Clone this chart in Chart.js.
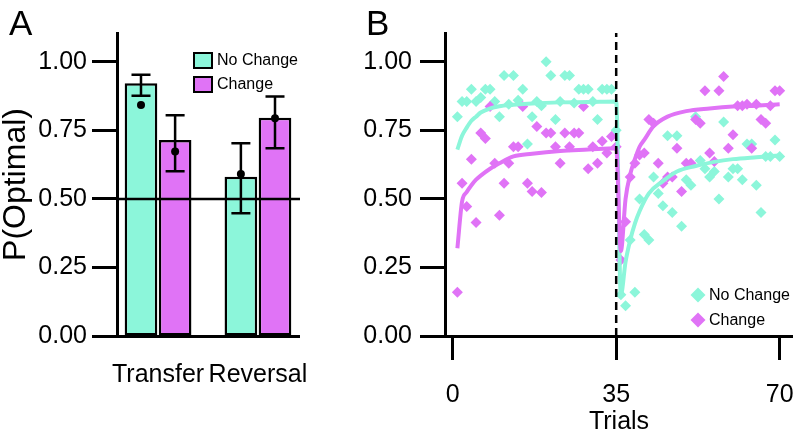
<!DOCTYPE html>
<html>
<head>
<meta charset="utf-8">
<script src="https://cdn.jsdelivr.net/npm/chart.js@4.4.1/dist/chart.umd.min.js"></script>
<style>
  html, body { margin: 0; padding: 0; background: #fff; overflow: hidden; }
  #wrap { position: relative; width: 793px; height: 432px; overflow: hidden; }
  canvas { position: absolute; top: 0; }
  #chartA { left: 0; }
  #chartB { left: 330px; }
  .tag { position: absolute; top: 5px; font: 35px 'Liberation Sans', Arial, sans-serif; line-height: 35px; color: #000; }
</style>
</head>
<body>
<div id="wrap">
  <canvas id="chartA" width="340" height="432"></canvas>
  <canvas id="chartB" width="500" height="432"></canvas>
  <div class="tag" style="left:9px">A</div>
  <div class="tag" style="left:366px">B</div>
</div>
<script>
// ---- data ----
const seriesNames = ['No Change', 'Change'];
const groups = ['Transfer', 'Reversal'];
const groupPos = [1, 2];
const noChangeMean = [0.922, 0.581];
const noChangeLow = [0.876, 0.448];
const noChangeHigh = [0.953, 0.703];
const noChangeDot = [0.842, 0.591];
const changeMean = [0.715, 0.796];
const changeLow = [0.601, 0.685];
const changeHigh = [0.805, 0.873];
const changeDot = [0.673, 0.794];
const chanceLevel = 0.5;

const yTicks = [0, 0.25, 0.5, 0.75, 1];
const yMax = 1.105;
const xRangeA = [0.589, 2.421];
const xTicks = [0, 35, 70];
const xRangeB = [-1.65, 72.85];
const switchTrial = 35;

// per-trial proportions, trials 1..70
const noChangeTrials = [
  0.80, 0.855, 0.855, 0.90, 0.855, 0.87, 0.90, 0.90, 0.855, 0.80,
  0.95, 0.845, 0.95, 0.86, 0.90, 0.70, 0.80, 0.855, 0.84, 1.00,
  0.95, 0.79, 0.855, 0.95, 0.95, 0.85, 0.90, 0.90, 0.90, 0.855,
  0.79, 0.90, 0.90, 0.90, 0.75,
  0.15, 0.11, 0.35, 0.16, 0.50, 0.37, 0.35, 0.58, 0.52, 0.475,
  0.73, 0.45, 0.73, 0.40, 0.57, 0.55, 0.80, 0.64, 0.61, 0.58,
  0.60, 0.50, 0.78, 0.58, 0.61, 0.61, 0.57, 0.70, 0.70, 0.55,
  0.45, 0.655, 0.655, 0.715, 0.655
];
const changeTrials = [
  0.16, 0.557, 0.472, 0.645, 0.414, 0.74, 0.72, 0.837, 0.63, 0.44,
  0.557, 0.63, 0.69, 0.69, 0.837, 0.557, 0.527, 0.764, 0.523, 0.74,
  0.74, 0.69, 0.63, 0.74, 0.69, 0.74, 0.74, 0.837, 0.61, 0.69,
  0.63, 0.71, 0.667, 0.728, 0.69,
  0.277, 0.417, 0.58, 0.63, 0.66, 0.667, 0.79, 0.776, 0.63, 0.557,
  0.58, 0.58, 0.685, 0.527, 0.63, 0.63, 0.79, 0.776, 0.894, 0.667,
  0.636, 0.894, 0.946, 0.685, 0.734, 0.84, 0.84, 0.845, 0.685, 0.845,
  0.79, 0.776, 0.84, 0.894, 0.894
];

// model fits
const noChangeFitTrials = [1, 2, 3, 4, 5, 6, 8, 10, 13, 17, 23, 29, 35, 36, 37, 38, 39, 40, 42, 45, 48, 52, 56, 60, 65, 70];
const noChangeFit = [0.68, 0.73, 0.76, 0.785, 0.80, 0.815, 0.83, 0.838, 0.843, 0.848, 0.852, 0.853, 0.855,
  0.15, 0.27, 0.35, 0.41, 0.455, 0.52, 0.565, 0.60, 0.62, 0.635, 0.645, 0.652, 0.658];
const changeFitTrials = [1, 2, 3, 4, 5, 6, 8, 10, 13, 17, 23, 29, 35, 36, 37, 38, 39, 40, 41, 43, 46, 50, 55, 60, 65, 70];
const changeFit = [0.32, 0.49, 0.525, 0.55, 0.57, 0.585, 0.61, 0.63, 0.655, 0.665, 0.675, 0.68, 0.685,
  0.31, 0.50, 0.59, 0.645, 0.69, 0.715, 0.765, 0.80, 0.82, 0.83, 0.837, 0.84, 0.845];

const cyan = '#8cf6da';
const purple = '#e073f6';

Chart.defaults.font.family = "'Liberation Sans', Arial, sans-serif";
Chart.defaults.color = '#000';

const toPoints = (xs, ys) => xs.map((x, i) => ({ x: x, y: ys[i] }));
const trialPoints = ys => ys.map((y, i) => ({ x: i + 1, y: y }));

// error bars + mean dots on top of the bars
const errorBars = {
  id: 'errorBars',
  afterDatasetsDraw(chart) {
    const { ctx } = chart;
    const y = chart.scales.y;
    const sets = [[noChangeLow, noChangeHigh, noChangeDot], [changeLow, changeHigh, changeDot]];
    ctx.save();
    ctx.strokeStyle = '#000';
    ctx.fillStyle = '#000';
    ctx.lineWidth = 2.5;
    sets.forEach(([lo, hi, dot], d) => {
      chart.getDatasetMeta(d).data.forEach((bar, i) => {
        const top = y.getPixelForValue(hi[i]);
        const bot = y.getPixelForValue(lo[i]);
        ctx.beginPath();
        ctx.moveTo(bar.x, top); ctx.lineTo(bar.x, bot);
        ctx.moveTo(bar.x - 9.5, top); ctx.lineTo(bar.x + 9.5, top);
        ctx.moveTo(bar.x - 9.5, bot); ctx.lineTo(bar.x + 9.5, bot);
        ctx.stroke();
        ctx.beginPath();
        ctx.arc(bar.x, y.getPixelForValue(dot[i]), 4, 0, Math.PI * 2);
        ctx.fill();
      });
    });
    ctx.restore();
  }
};

const legendA = {
  id: 'legendA',
  afterDraw(chart) {
    const { ctx, chartArea } = chart;
    const left = chartArea.left + 77;
    ctx.save();
    ctx.font = "16px 'Liberation Sans', Arial, sans-serif";
    ctx.textBaseline = 'middle';
    [cyan, purple].forEach((color, i) => {
      const top = chartArea.top + 20 + i * 24;
      ctx.fillStyle = color;
      ctx.fillRect(left, top, 18, 15);
      ctx.strokeStyle = '#000';
      ctx.lineWidth = 2;
      ctx.strokeRect(left, top, 18, 15);
      ctx.fillStyle = '#000';
      ctx.fillText(seriesNames[i], left + 23, top + 8);
    });
    ctx.restore();
  }
};

const legendB = {
  id: 'legendB',
  afterDraw(chart) {
    const { ctx, chartArea } = chart;
    const cx = chartArea.left + 253;
    ctx.save();
    ctx.font = "16px 'Liberation Sans', Arial, sans-serif";
    ctx.textBaseline = 'middle';
    [cyan, purple].forEach((color, i) => {
      const cy = chartArea.bottom - 41 + i * 25;
      const r = 7.5;
      ctx.fillStyle = color;
      ctx.beginPath();
      ctx.moveTo(cx - r, cy); ctx.lineTo(cx, cy - r); ctx.lineTo(cx + r, cy); ctx.lineTo(cx, cy + r);
      ctx.closePath();
      ctx.fill();
      ctx.fillStyle = '#000';
      ctx.fillText(seriesNames[i], cx + 11, cy + 1);
    });
    ctx.restore();
  }
};

const tickFont = { size: 25 };

// Panel A - bars
new Chart(document.getElementById('chartA'), {
  type: 'bar',
  data: {
    datasets: [
      { label: seriesNames[0], data: toPoints(groupPos, noChangeMean), backgroundColor: cyan,
        borderColor: '#000', borderWidth: 2.5, borderSkipped: false, order: 1 },
      { label: seriesNames[1], data: toPoints(groupPos, changeMean), backgroundColor: purple,
        borderColor: '#000', borderWidth: 2.5, borderSkipped: false, order: 1 },
      { type: 'line', label: 'chance', data: toPoints(xRangeA, [chanceLevel, chanceLevel]),
        borderColor: '#000', borderWidth: 2.5, pointRadius: 0, order: 0 }
    ]
  },
  options: {
    responsive: false,
    animation: false,
    events: [],
    layout: { padding: { top: 33, right: 38, bottom: 0, left: 0 } },
    datasets: { bar: { categoryPercentage: 0.683, barPercentage: 0.957 } },
    plugins: { legend: { display: false }, tooltip: { enabled: false } },
    scales: {
      x: {
        type: 'linear', min: xRangeA[0], max: xRangeA[1], offset: false,
        afterBuildTicks: s => { s.ticks = groupPos.map(v => ({ value: v })); },
        afterFit: s => { s.height = 96; },
        ticks: { callback: (v, i) => groups[i], padding: 24, font: tickFont, color: '#000',
          maxRotation: 0, minRotation: 0, autoSkip: false },
        grid: { display: false, drawTicks: false, offset: false },
        border: { color: '#000', width: 3 }
      },
      y: {
        min: 0, max: yMax,
        afterBuildTicks: s => { s.ticks = yTicks.map(v => ({ value: v })); },
        afterFit: s => { s.width = 117; },
        ticks: { callback: v => v.toFixed(2), padding: 5, font: tickFont, color: '#000' },
        grid: { drawOnChartArea: false, drawTicks: true, tickLength: 25, tickWidth: 3, tickColor: '#000' },
        border: { color: '#000', width: 3 },
        title: { display: true, text: 'P(Optimal)', font: { size: 32, lineHeight: 1 }, padding: 0, color: '#000' }
      }
    }
  },
  plugins: [errorBars, legendA]
});

// Panel B - trial-by-trial
new Chart(document.getElementById('chartB'), {
  type: 'scatter',
  data: {
    datasets: [
      { label: 'switch', data: toPoints([switchTrial, switchTrial], [0, yMax]), showLine: true,
        borderColor: '#000', borderWidth: 2.5, borderDash: [8, 5], pointRadius: 0 },
      { label: seriesNames[1] + ' fit', data: toPoints(changeFitTrials, changeFit), showLine: true,
        borderColor: purple, borderWidth: 4, pointRadius: 0, cubicInterpolationMode: 'monotone' },
      { label: seriesNames[0] + ' fit', data: toPoints(noChangeFitTrials, noChangeFit), showLine: true,
        borderColor: cyan, borderWidth: 4, pointRadius: 0, cubicInterpolationMode: 'monotone' },
      { label: seriesNames[1], data: trialPoints(changeTrials), showLine: false, pointStyle: 'rectRot',
        pointRadius: 5.5, backgroundColor: purple, pointBackgroundColor: purple, pointBorderWidth: 0 },
      { label: seriesNames[0], data: trialPoints(noChangeTrials), showLine: false, pointStyle: 'rectRot',
        pointRadius: 5.5, backgroundColor: cyan, pointBackgroundColor: cyan, pointBorderWidth: 0 }
    ]
  },
  options: {
    responsive: false,
    animation: false,
    events: [],
    layout: { padding: { top: 33, right: 37, bottom: 0, left: 0 } },
    plugins: { legend: { display: false }, tooltip: { enabled: false } },
    scales: {
      x: {
        type: 'linear', min: xRangeB[0], max: xRangeB[1],
        afterBuildTicks: s => { s.ticks = xTicks.map(v => ({ value: v })); },
        afterFit: s => { s.height = 96; },
        ticks: { callback: v => String(v), padding: 20, font: tickFont, color: '#000' },
        grid: { drawOnChartArea: false, drawTicks: true, tickLength: 24, tickWidth: 3, tickColor: '#000' },
        border: { color: '#000', width: 3 },
        title: { display: true, text: 'Trials', font: { size: 25, lineHeight: 0.8 }, padding: 0, color: '#000' }
      },
      y: {
        min: 0, max: yMax,
        afterBuildTicks: s => { s.ticks = yTicks.map(v => ({ value: v })); },
        afterFit: s => { s.width = 115; },
        ticks: { callback: v => v.toFixed(2), padding: 8, font: tickFont, color: '#000' },
        grid: { drawOnChartArea: false, drawTicks: true, tickLength: 25, tickWidth: 3, tickColor: '#000' },
        border: { color: '#000', width: 3 }
      }
    }
  },
  plugins: [legendB]
});
</script>
</body>
</html>
